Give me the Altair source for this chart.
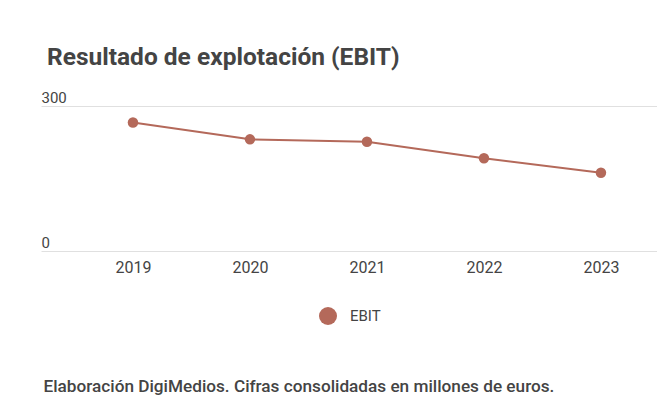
import altair as alt
import pandas as pd

years = [2019, 2020, 2021, 2022, 2023]
ebit = [266, 231, 226, 192, 162]
series = ["EBIT"] * 5

df = pd.DataFrame({"year": years, "value": ebit, "serie": series})

COLOR = "#b4695a"
TEXT = "#444444"
FONT = "Roboto"

x = alt.X(
    "year:Q",
    scale=alt.Scale(domain=[2018.214, 2023.479], nice=False, zero=False),
    axis=alt.Axis(
        values=years, format="d",
        title="Elaboración DigiMedios. Cifras consolidadas en millones de euros.",
        titleX=2, titleY=140, titleAlign="left", titleAnchor="start",
        titleBaseline="alphabetic", titleFont=FONT, titleFontSize=17.2,
        titleFontWeight=500, titleColor=TEXT,
        labelAngle=0, labelFont=FONT, labelFontSize=16, labelColor=TEXT,
        labelPadding=8, domain=False, ticks=False, grid=False,
        labelFlush=False, labelOverlap=False,
    ),
)
y = alt.Y(
    "value:Q",
    scale=alt.Scale(domain=[0, 300], nice=False),
    axis=alt.Axis(
        title=None, values=[0, 300], grid=True, gridColor="#e0e0e0",
        gridWidth=1, domain=False, ticks=False, tickSize=0,
        labelAlign="left", labelBaseline="alphabetic", labelPadding=0,
        labelOffset=-4, labelFont=FONT, labelFontSize=15, labelColor=TEXT,
    ),
)

base = alt.Chart(df)
line = base.mark_line(color=COLOR, strokeWidth=2).encode(x=x, y=y)
pts = base.mark_point(filled=True, opacity=1, size=110).encode(
    x=x,
    y=y,
    color=alt.Color(
        "serie:N",
        scale=alt.Scale(range=[COLOR]),
        legend=alt.Legend(
            title=None, orient="none", legendX=278, legendY=201,
            symbolType="circle", symbolSize=324, symbolStrokeWidth=0,
            symbolOpacity=1, labelFont=FONT, labelFontSize=15,
            labelColor=TEXT, labelOffset=13, padding=0,
        ),
    ),
)

chart = (
    alt.layer(line, pts)
    .properties(
        width=616,
        height=145,
        autosize=alt.AutoSizeParams(type="none"),
        padding={"left": 33, "top": 98, "right": 0, "bottom": 150},
        title=alt.TitleParams(
            "Resultado de explotación (EBIT)", anchor="start", dx=6,
            offset=1, baseline="alphabetic", font=FONT, fontSize=24.5,
            fontWeight="bold", color=TEXT,
        ),
    )
    .configure_view(stroke=None)
)

chart.save("out.html", embed_options={"renderer": "svg", "actions": False})
